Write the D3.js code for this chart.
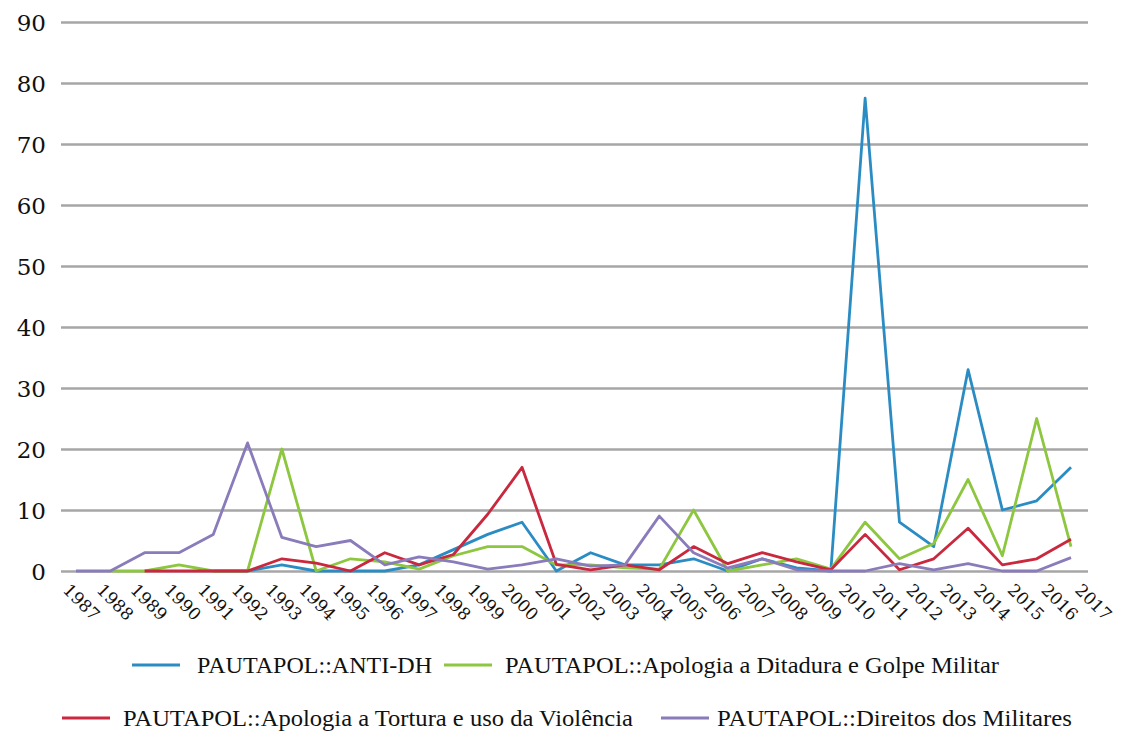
<!DOCTYPE html>
<html>
<head>
<meta charset="utf-8">
<script src="https://cdn.jsdelivr.net/npm/d3@7/dist/d3.min.js"></script>
<style>
  html, body { margin: 0; padding: 0; background: #ffffff; }
  svg { display: block; }
  .serif { font-family: "DejaVu Serif", "Liberation Serif", serif; }
  .lserif { font-family: "Liberation Serif", "DejaVu Serif", serif; }
</style>
</head>
<body>
<svg id="chart" width="1121" height="736"></svg>
<script>
// ---- data ----
const years = ["1987","1988","1989","1990","1991","1992","1993","1994","1995","1996",
  "1997","1998","1999","2000","2001","2002","2003","2004","2005","2006",
  "2007","2008","2009","2010","2011","2012","2013","2014","2015","2016"];
const xTickLabels = ["1987","1988","1989","1990","1991","1992","1993","1994","1995","1996",
  "1997","1998","1999","2000","2001","2002","2003","2004","2005","2006",
  "2007","2008","2009","2010","2011","2012","2013","2014","2015","2016","2017"];
const yTickValues = [0, 10, 20, 30, 40, 50, 60, 70, 80, 90];

const antiDH = [null, null, null, null, 0, 0, 1, 0, 0, 0,
  1, 3.5, 6, 8, 0, 3, 1, 1, 2, 0,
  2, 0.5, 0, 77.5, 8, 4, 33, 10, 11.5, 17];
const apologiaDitadura = [null, 0, 0, 1, 0, 0, 20, 0, 2, 1.5,
  0.3, 2.5, 4, 4, 1, 1, 0.5, 0.3, 10, 0,
  1, 2, 0.3, 8, 2, 4.5, 15, 2.5, 25, 4];
const apologiaTortura = [null, null, 0, 0, 0, 0, 2, 1.3, 0, 3,
  1, 2.7, 9.3, 17, 1.1, 0.2, 1, 0.2, 4, 1.2,
  3, 1.5, 0.2, 6, 0.2, 2, 7, 1, 2, 5.2];
const direitosMilitares = [0, 0, 3, 3, 6, 21, 5.5, 4, 5, 1,
  2.3, 1.5, 0.3, 1, 2, 0.8, 1, 9, 3, 0.5,
  2, 0.2, 0, 0, 1.2, 0.2, 1.2, 0, 0, 2.2];

const seriesNames = [
  "PAUTAPOL::ANTI-DH",
  "PAUTAPOL::Apologia a Ditadura e Golpe Militar",
  "PAUTAPOL::Apologia a Tortura e uso da Violência",
  "PAUTAPOL::Direitos dos Militares"
];
const seriesValues = [antiDH, apologiaDitadura, apologiaTortura, direitosMilitares];
const seriesColors = ["#2b8cc4", "#8dc63f", "#c9283e", "#8a7bbb"];

// ---- layout ----
const svg = d3.select("#chart");
const plotLeft = 61, plotRight = 1088, plotTop = 22, plotBottom = 571;

const x = d3.scalePoint().domain(years).range([76, 1071]);
const xLab = d3.scalePoint().domain(xTickLabels).range([62, 1074]);
const y = d3.scaleLinear().domain([0, 90]).range([plotBottom, plotTop]);

// gridlines + y labels
const yAxis = d3.axisLeft(y)
  .tickValues(yTickValues)
  .tickSize(-(plotRight - plotLeft))
  .tickPadding(15)
  .tickFormat(d3.format("d"));

const gy = svg.append("g")
  .attr("transform", `translate(${plotLeft},0)`)
  .call(yAxis)
  .attr("font-family", null)
  .attr("font-size", null);
gy.select(".domain").remove();
gy.selectAll(".tick line")
  .attr("stroke", "#a6a6a6")
  .attr("stroke-width", 2.6);
gy.selectAll(".tick text")
  .attr("class", "serif")
  .attr("fill", "#111")
  .attr("font-size", 23)
  .attr("dy", "0.36em");

// x labels (rotated)
svg.append("g").selectAll("text")
  .data(xTickLabels)
  .join("text")
  .attr("class", "serif")
  .attr("transform", d => `translate(${xLab(d)},${591}) rotate(45)`)
  .attr("text-anchor", "start")
  .attr("fill", "#111")
  .attr("font-size", 17)
  .text(d => d);

// lines
const line = d3.line()
  .defined(d => d.v !== null)
  .x(d => x(d.year))
  .y(d => y(d.v));

seriesValues.forEach((vals, i) => {
  const pts = years.map((yr, j) => ({ year: yr, v: vals[j] }));
  svg.append("path")
    .datum(pts)
    .attr("fill", "none")
    .attr("stroke", seriesColors[i])
    .attr("stroke-width", 2.8)
    .attr("stroke-linejoin", "round")
    .attr("d", line);
});

// legend
const legendItems = [
  { name: seriesNames[0], color: seriesColors[0], lx: 132, tx: 197, ty: 665, tw: 235 },
  { name: seriesNames[1], color: seriesColors[1], lx: 444, tx: 505, ty: 665, tw: 494 },
  { name: seriesNames[2], color: seriesColors[2], lx: 62,  tx: 123, ty: 718, tw: 510 },
  { name: seriesNames[3], color: seriesColors[3], lx: 661, tx: 717, ty: 718, tw: 355 }
];
const lg = svg.append("g").selectAll("g").data(legendItems).join("g");
lg.append("line")
  .attr("x1", d => d.lx).attr("x2", d => d.lx + 48)
  .attr("y1", d => d.ty).attr("y2", d => d.ty)
  .attr("stroke", d => d.color)
  .attr("stroke-width", 3);
lg.append("text")
  .attr("class", "lserif")
  .attr("x", d => d.tx)
  .attr("y", d => d.ty + 8)
  .attr("textLength", d => d.tw)
  .attr("lengthAdjust", "spacingAndGlyphs")
  .attr("fill", "#111")
  .attr("font-size", 24)
  .text(d => d.name);
</script>
</body>
</html>
